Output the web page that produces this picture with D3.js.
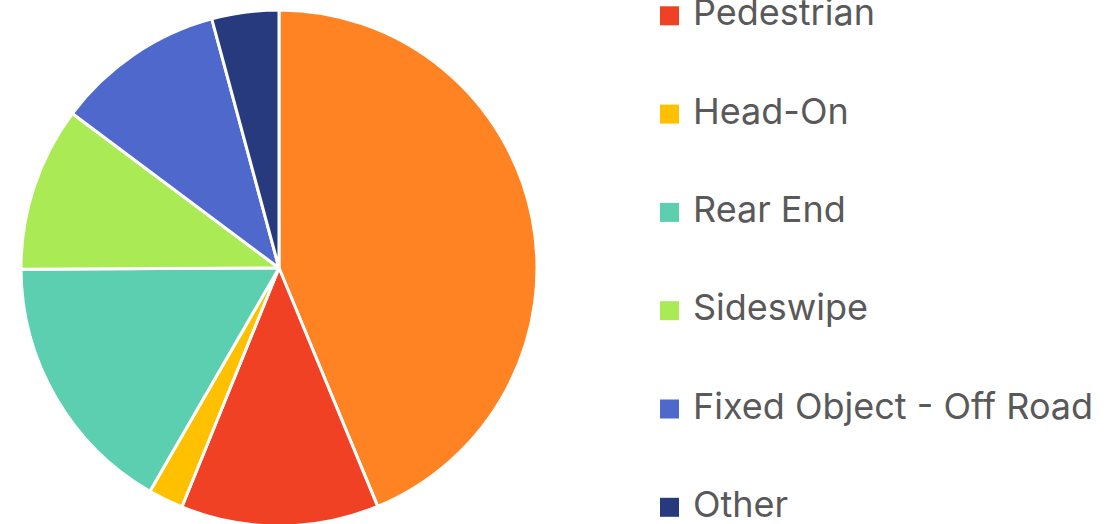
<!DOCTYPE html>
<html>
  <head>
    <script src="https://cdn.jsdelivr.net/npm/d3@7"></script>
    <style>
      body { margin: 0; background: #fff; overflow: hidden; }
    </style>
  </head>
  <body>
    <div id="pieChart"></div>
    <script>
      // crash types, shares in percent
      const categories = ["Angle", "Pedestrian", "Head-On", "Rear End", "Sideswipe", "Fixed Object - Off Road", "Other"];
      const values = [43.8, 12.4, 2.2, 16.6, 10.3, 10.6, 4.2];
      const colors = ["#FF8322", "#F04124", "#FFC000", "#5CCFB1", "#AAEA55", "#4F68CC", "#273A7E"];

      const width = 1109, height = 524;
      const cx = 279, cy = 268, radius = 258;

      const data = categories.map((c, i) => ({ name: c, value: values[i] }));

      const color = d3.scaleOrdinal().domain(categories).range(colors);

      const svg = d3.select("#pieChart")
        .append("svg")
        .attr("width", width)
        .attr("height", height);

      const pie = d3.pie().value((d) => d.value).sort(null);
      const arc = d3.arc().innerRadius(0).outerRadius(radius);

      svg.append("g")
        .attr("transform", `translate(${cx},${cy})`)
        .selectAll("path")
        .data(pie(data))
        .join("path")
        .attr("d", arc)
        .attr("fill", (d) => color(d.data.name))
        .attr("stroke", "#fff")
        .attr("stroke-width", 3)
        .attr("stroke-linejoin", "round");

      // legend, first entry sits above the visible area
      const legendY = d3.scaleLinear().domain([0, 1]).range([-73, 25.3]);
      const legend = svg.append("g")
        .selectAll("g")
        .data(categories)
        .join("g")
        .attr("transform", (d, i) => `translate(660,${legendY(i)})`);

      legend.append("rect")
        .attr("x", 0)
        .attr("y", -19)
        .attr("width", 19)
        .attr("height", 19)
        .attr("fill", (d) => color(d));

      legend.append("text")
        .attr("x", 33)
        .attr("y", 0)
        .style("font-family", "Inter, 'Liberation Sans', sans-serif")
        .style("font-size", "36px")
        .style("fill", "#595959")
        .text((d) => d);
    </script>
  </body>
</html>
